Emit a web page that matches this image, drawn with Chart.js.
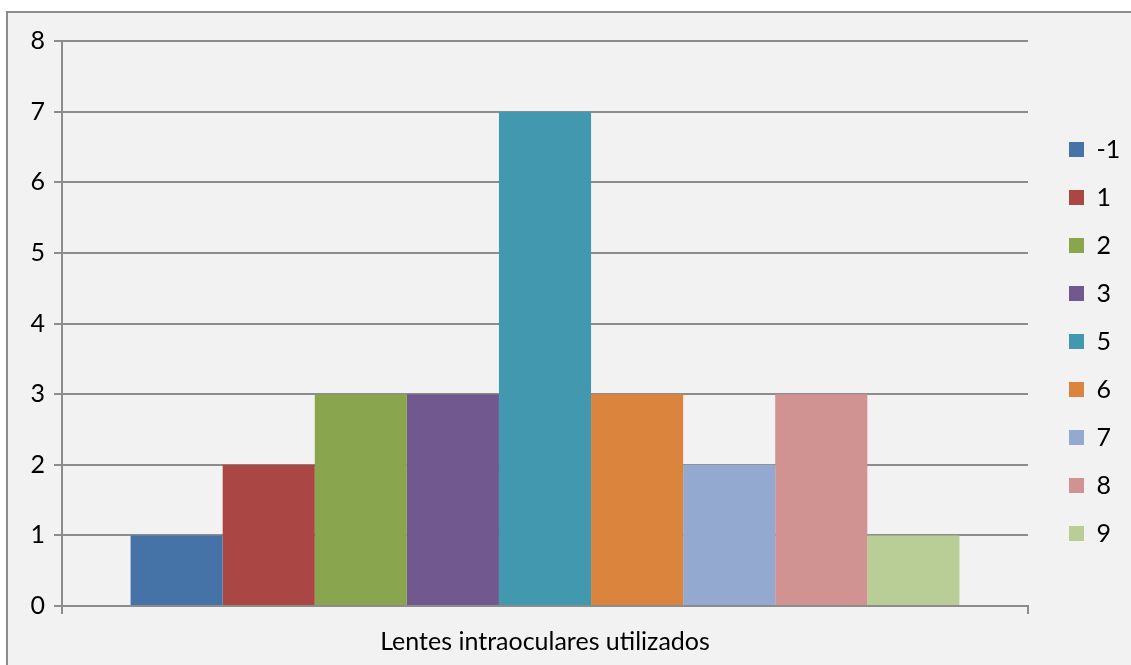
<!DOCTYPE html>
<html>
<head>
<meta charset="utf-8">
<script src="https://cdn.jsdelivr.net/npm/chart.js@4/dist/chart.umd.min.js"></script>
<style>
  html, body { margin: 0; padding: 0; background: #ffffff; }
  #frame {
    position: absolute; left: 6px; top: 11px; width: 1125px; height: 654px;
    border-top: 2px solid #8c8c8c; border-left: 2px solid #8c8c8c;
    background: #f2f2f2;
  }
  #wrap { position: absolute; left: 0; top: 0; width: 1123px; height: 652px; }
</style>
</head>
<body>
<div id="frame"><div id="wrap"><canvas id="chart"></canvas></div></div>
<script>
// Datos
const categories = ["Lentes intraoculares utilizados"];
const seriesNames = ["-1", "1", "2", "3", "5", "6", "7", "8", "9"];
const seriesValues = [1, 2, 3, 3, 7, 3, 2, 3, 1];
const seriesColors = ["#4572a7", "#aa4643", "#89a54e", "#71588f", "#4198af",
                      "#db843d", "#93a9cf", "#d19392", "#b9cd96"];
const yTicks = [0, 1, 2, 3, 4, 5, 6, 7, 8];

const gridColor = "#8c8c8c";
const fontFamily = "Lato, 'Open Sans', sans-serif";

const datasets = seriesNames.map((name, i) => ({
  label: name,
  data: [seriesValues[i]],
  backgroundColor: seriesColors[i],
  borderWidth: 0,
  barPercentage: 1,
  categoryPercentage: 0.858,
}));

// Ancho fijo de la leyenda y pequeño desplazamiento de sus elementos
const legendShift = {
  id: "legendShift",
  beforeLayout(chart) {
    const legend = chart.legend;
    if (legend && !legend._fixedFit) {
      const origFit = legend.fit.bind(legend);
      legend.fit = function () {
        origFit();
        this.width = 103;
      };
      legend._fixedFit = true;
    }
  },
  afterLayout(chart) {
    chart.legend.left += 18;
    chart.legend.top -= 6;
    chart.legend.bottom -= 6;
  },
};

new Chart(document.querySelector("#chart").getContext("2d"), {
  type: "bar",
  data: { labels: categories, datasets },
  plugins: [legendShift],
  options: {
    responsive: true,
    maintainAspectRatio: false,
    animation: false,
    layout: { padding: { left: 0, top: 28, right: 0, bottom: 11 } },
    scales: {
      x: {
        afterFit: (scale) => { scale.height = 48; },
        grid: { display: true, drawOnChartArea: false, color: gridColor, lineWidth: 2, tickLength: 8, offset: true },
        border: { display: true, color: gridColor, width: 2 },
        ticks: { color: "#000", padding: 13, font: { family: fontFamily, size: 25 } },
      },
      y: {
        min: 0,
        max: 8,
        afterFit: (scale) => { scale.width = 54; },
        afterBuildTicks: (scale) => { scale.ticks = yTicks.map((v) => ({ value: v })); },
        grid: { color: gridColor, lineWidth: 2, tickLength: 8 },
        border: { display: true, color: gridColor, width: 2 },
        ticks: { color: "#000", padding: 9, font: { family: fontFamily, size: 25 } },
      },
    },
    plugins: {
      tooltip: { enabled: false },
      legend: {
        position: "right",
        labels: {
          boxWidth: 15,
          boxHeight: 15,
          padding: 23,
          color: "#000",
          font: { family: fontFamily, size: 25 },
        },
      },
    },
  },
});
</script>
</body>
</html>
